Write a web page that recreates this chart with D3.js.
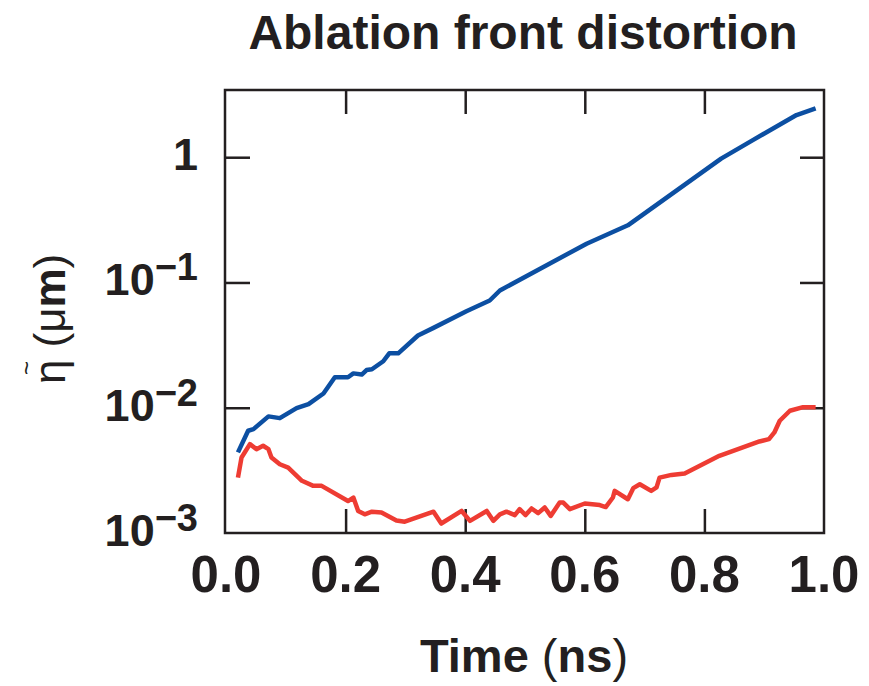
<!DOCTYPE html>
<html>
<head>
<meta charset="utf-8">
<script src="https://cdn.jsdelivr.net/npm/d3@7"></script>
<style>
  body { margin: 0; background: #fff; }
  text { font-family: "Liberation Sans", Arial, Helvetica, sans-serif; fill: #231f20; white-space: pre; }
</style>
</head>
<body>
<div id="chart"></div>
<script>
// data (time in ns, eta in um)
const blueTime = [0.020, 0.037, 0.046, 0.071, 0.090, 0.118, 0.138, 0.163, 0.182, 0.204, 0.213, 0.227, 0.235, 0.244,
    0.263, 0.273, 0.288, 0.321, 0.347, 0.402, 0.441, 0.458, 0.603, 0.672, 0.828, 0.881, 0.954, 0.986];
const blueEta = [0.00440, 0.00655, 0.00675, 0.00853, 0.00826, 0.00993, 0.0107, 0.0130, 0.0175, 0.0175, 0.0188, 0.0184, 0.0200, 0.0203,
    0.0235, 0.0272, 0.0272, 0.0377, 0.0434, 0.0590, 0.0718, 0.0863, 0.204, 0.286, 0.975, 1.37, 2.17, 2.45];

const redTime = [0.020, 0.026, 0.040, 0.051, 0.062, 0.071, 0.076, 0.090, 0.104, 0.127, 0.146, 0.160, 0.204, 0.213,
    0.221, 0.232, 0.244, 0.260, 0.285, 0.299, 0.347, 0.360, 0.394, 0.408, 0.436, 0.447, 0.458, 0.469,
    0.483, 0.491, 0.501, 0.511, 0.522, 0.533, 0.543, 0.558, 0.564, 0.575, 0.600, 0.625, 0.635, 0.647,
    0.650, 0.672, 0.681, 0.692, 0.711, 0.720, 0.725, 0.745, 0.767, 0.825, 0.892, 0.908, 0.917, 0.926,
    0.943, 0.965, 0.986];
const redEta = [0.00277, 0.00401, 0.00512, 0.00467, 0.00497, 0.00467, 0.00401, 0.00354, 0.00333, 0.00261, 0.00238, 0.00238, 0.00180, 0.00192,
    0.00150, 0.00141, 0.00148, 0.00146, 0.00126, 0.00123, 0.00148, 0.00119, 0.00150, 0.00125, 0.00150, 0.00125, 0.00141, 0.00148,
    0.00139, 0.00155, 0.00139, 0.00157, 0.00144, 0.00160, 0.00137, 0.00175, 0.00175, 0.00155, 0.00172, 0.00167, 0.00161, 0.00192,
    0.00217, 0.00186, 0.00228, 0.00245, 0.00217, 0.00231, 0.00277, 0.00291, 0.00299, 0.00413, 0.00538, 0.00561, 0.00635, 0.00787,
    0.00946, 0.0101, 0.0101];

const xTicks = [0, 0.2, 0.4, 0.6, 0.8, 1.0];
const xTickLabels = ["0.0", "0.2", "0.4", "0.6", "0.8", "1.0"];
const yTicks = [1, 0.1, 0.01, 0.001];
const yTickBase = ["1", "10", "10", "10"];
const yTickExp = ["", "\u22121", "\u22122", "\u22123"];

const width = 869, height = 686;
const margin = {top: 90, right: 45, bottom: 153, left: 226};
const ink = "#231f20";

const svg = d3.select("#chart").append("svg")
    .attr("width", width)
    .attr("height", height);

const x = d3.scaleLinear()
    .domain([0, 1])
    .range([margin.left, width - margin.right]);

const y = d3.scaleLog()
    .domain([0.001, 3.44])
    .range([height - margin.bottom, margin.top]);

const [x0, x1] = x.range();
const [yb, yt] = y.range();
const tickLen = 24;
const innerX = xTicks.slice(1, -1);
const innerY = yTicks.slice(0, -1);

// inward ticks on all four sides
function tickGroup(axis, tx, ty) {
    const g = svg.append("g")
        .attr("transform", `translate(${tx},${ty})`)
        .call(axis);
    g.select(".domain").remove();
    g.selectAll("line").attr("stroke", ink).attr("stroke-width", 2.5);
    g.selectAll("text").remove();
}
tickGroup(d3.axisBottom(x).tickValues(innerX).tickSize(-tickLen), 0, yb);
tickGroup(d3.axisTop(x).tickValues(innerX).tickSize(-tickLen), 0, yt);
tickGroup(d3.axisLeft(y).tickValues(innerY).tickSize(-tickLen), x0, 0);
tickGroup(d3.axisRight(y).tickValues(innerY).tickSize(-tickLen), x1, 0);

// frame
svg.append("rect")
    .attr("x", x0 - 1)
    .attr("y", yt)
    .attr("width", x1 - x0 + 1)
    .attr("height", yb - yt)
    .attr("fill", "none")
    .attr("stroke", ink)
    .attr("stroke-width", 2.5);

// curves
const line = d3.line()
    .x(d => x(d[0]))
    .y(d => y(d[1]));

const series = [
    {t: blueTime, v: blueEta, color: "#0c4fa2"},
    {t: redTime, v: redEta, color: "#ee3c33"}
];
series.forEach(s => {
    svg.append("path")
        .datum(s.t.map((t, i) => [t, s.v[i]]))
        .attr("d", line)
        .attr("fill", "none")
        .attr("stroke", s.color)
        .attr("stroke-width", 4.5)
        .attr("stroke-linejoin", "round");
});

// x tick labels
svg.append("g").selectAll("text")
    .data(xTicks)
    .join("text")
    .attr("x", d => x(d))
    .attr("y", 592)
    .attr("text-anchor", "middle")
    .style("font-size", "51px")
    .style("font-weight", "bold")
    .text((d, i) => xTickLabels[i]);

// y tick labels with superscript exponents
const yLab = svg.append("g").selectAll("text")
    .data(yTicks)
    .join("text")
    .attr("x", 198)
    .attr("y", d => y(d) + 13)
    .attr("text-anchor", "end")
    .style("font-weight", "bold");
yLab.append("tspan")
    .style("font-size", "45px")
    .text((d, i) => yTickBase[i]);
yLab.append("tspan")
    .attr("dy", -15)
    .style("font-size", "38px")
    .text((d, i) => yTickExp[i]);

// title
svg.append("text")
    .attr("x", 523)
    .attr("y", 49)
    .attr("text-anchor", "middle")
    .style("font-size", "48px")
    .style("font-weight", "bold")
    .text("Ablation front distortion");

// x axis title
const xt = svg.append("text")
    .attr("x", 524)
    .attr("y", 672)
    .attr("text-anchor", "middle")
    .style("font-size", "47px");
xt.append("tspan").style("font-weight", "bold").text("Time ");
xt.append("tspan").text("(");
xt.append("tspan").style("font-weight", "bold").text("ns");
xt.append("tspan").text(")");

// y axis title: eta with a tilde above it, then (um)
const yTitle = svg.append("g")
    .attr("transform", "translate(65,384) rotate(-90)");
const yt2 = yTitle.append("text")
    .attr("x", 0)
    .attr("y", 0)
    .style("font-size", "44px");
yt2.append("tspan").text("\u03b7");
yt2.append("tspan").attr("dx", 12).text("(\u03bc");
yt2.append("tspan").style("font-weight", "bold").text("m");
yt2.append("tspan").text(")");
yTitle.append("text")
    .attr("x", 16)
    .attr("y", -30)
    .attr("text-anchor", "middle")
    .style("font-size", "24px")
    .text("~");
</script>
</body>
</html>
